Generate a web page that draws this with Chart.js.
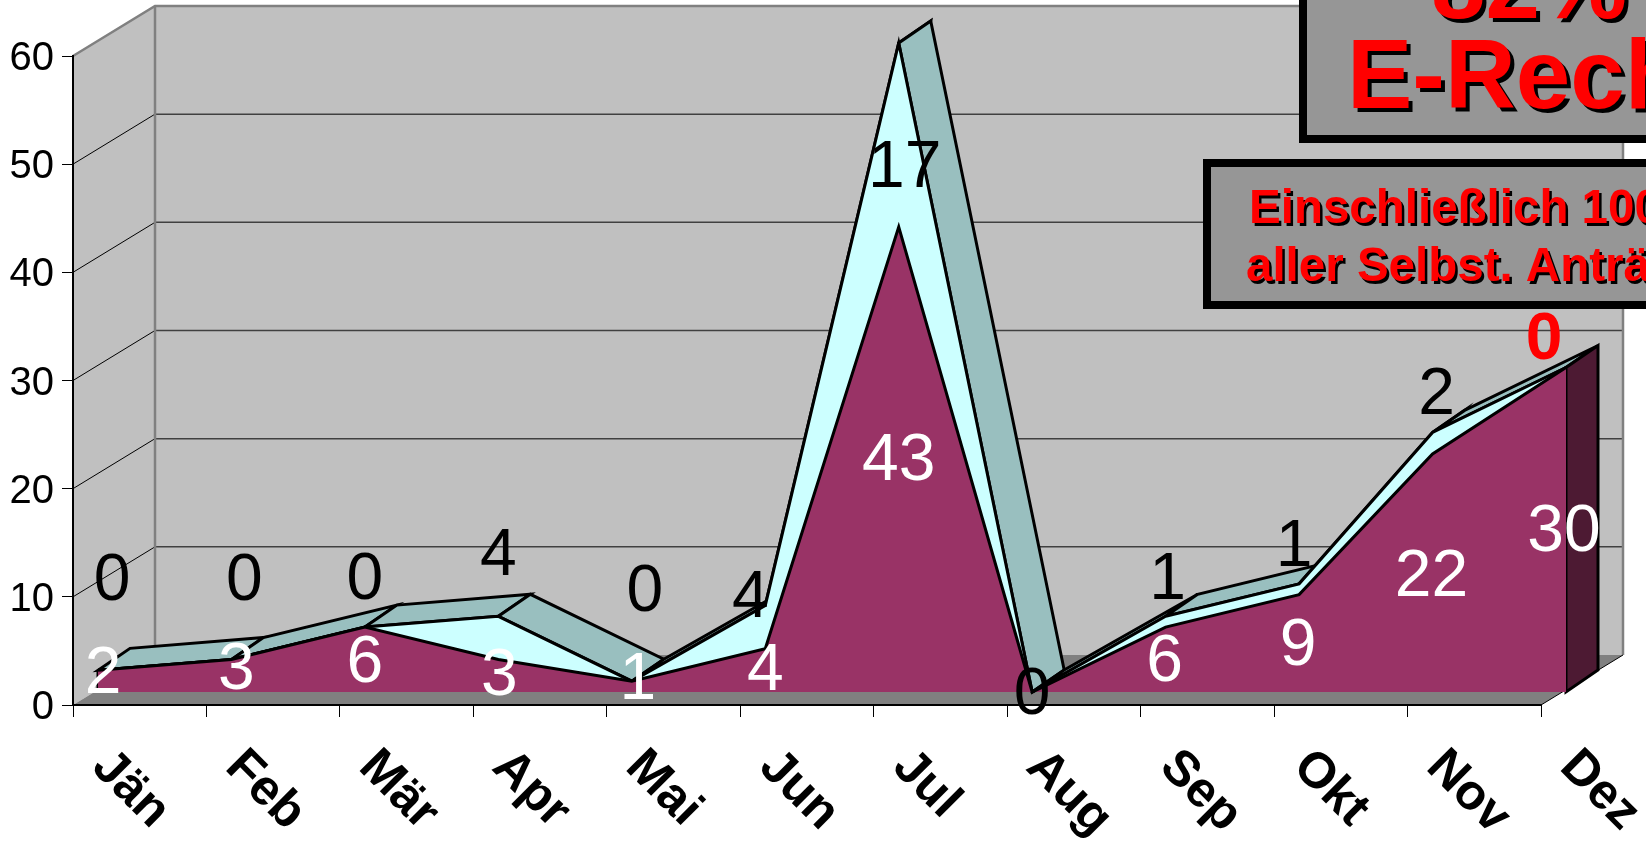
<!DOCTYPE html>
<html>
<head>
<meta charset="utf-8">
<style>
html, body { margin: 0; padding: 0; background: #fff; overflow: hidden; }
canvas { display: block; }
</style>
<script src="https://cdn.jsdelivr.net/npm/chart.js@4"></script>
</head>
<body>
<canvas id="chart" width="1646" height="844"></canvas>
<script>
// values
const months = ['Jän', 'Feb', 'Mär', 'Apr', 'Mai', 'Jun', 'Jul', 'Aug', 'Sep', 'Okt', 'Nov', 'Dez'];
const paperValues = [2, 3, 6, 3, 1, 4, 43, 0, 6, 9, 22, 30];
const eInvoiceValues = [0, 0, 0, 4, 0, 4, 17, 0, 1, 1, 2, 0];
const yTicks = [0, 10, 20, 30, 40, 50, 60];
const boxOneLines = ['82%', 'E-Rech'];
const boxTwoLines = ['Einschließlich 100', 'aller Selbst. Anträ'];

// hand placed label nudges, the original chart had its labels dragged around
const paperNudge = [[5, -6], [5, -5], [0, 4], [1, 1], [6, -6], [0, 1], [0, 2], [0, 0], [-1, 3], [-1, 3], [-1, 5], [-2, 3]];
const eInvoiceNudge = [[14, -89], [13, -78], [0, -46], [0, -81], [13, -88], [-15, -28], [6, 34], [0, 4], [2, -41], [-5, -41], [4, -47], [-22, -27]];

// 3d look: wall offset, front of the areas, depth of the areas
const wallDx = 82, wallDy = -50;
const frontDx = 25, frontDy = -13;
const depthDx = 32, depthDy = -22;

const FONT = '"Liberation Sans", Arial, sans-serif';

const wallsPlugin = {
    id: 'walls',
    beforeDraw(chart) {
        const { ctx, chartArea: a, scales: { y } } = chart;
        const left = a.left, right = a.right, top = y.getPixelForValue(60), bottom = y.getPixelForValue(0);
        ctx.save();

        // back wall + left wall
        ctx.fillStyle = '#c0c0c0';
        ctx.fillRect(left + wallDx, top + wallDy, right - left, bottom - top);
        ctx.beginPath();
        ctx.moveTo(left, top);
        ctx.lineTo(left + wallDx, top + wallDy);
        ctx.lineTo(left + wallDx, bottom + wallDy);
        ctx.lineTo(left, bottom);
        ctx.closePath();
        ctx.fill();

        // floor
        ctx.fillStyle = '#808080';
        ctx.beginPath();
        ctx.moveTo(left, bottom);
        ctx.lineTo(left + wallDx, bottom + wallDy);
        ctx.lineTo(right + wallDx, bottom + wallDy);
        ctx.lineTo(right, bottom);
        ctx.closePath();
        ctx.fill();

        // grid lines on both walls
        yTicks.slice(1, -1).forEach(v => {
            const py = y.getPixelForValue(v);
            ctx.strokeStyle = '#000';
            ctx.lineWidth = 1;
            ctx.beginPath();
            ctx.moveTo(left, py);
            ctx.lineTo(left + wallDx, py + wallDy);
            ctx.stroke();
            ctx.strokeStyle = '#404040';
            ctx.lineWidth = 1.5;
            ctx.beginPath();
            ctx.moveTo(left + wallDx, py + wallDy);
            ctx.lineTo(right + wallDx, py + wallDy);
            ctx.stroke();
        });

        // wall edges
        ctx.strokeStyle = '#808080';
        ctx.lineWidth = 2.5;
        ctx.beginPath();
        ctx.moveTo(left, top);
        ctx.lineTo(left + wallDx, top + wallDy);
        ctx.lineTo(right + wallDx, top + wallDy);
        ctx.lineTo(right + wallDx, bottom + wallDy);
        ctx.moveTo(left + wallDx, top + wallDy);
        ctx.lineTo(left + wallDx, bottom + wallDy);
        ctx.stroke();
        ctx.strokeStyle = '#000';
        ctx.lineWidth = 1;
        ctx.beginPath();
        ctx.moveTo(right, bottom);
        ctx.lineTo(right + wallDx, bottom + wallDy);
        ctx.stroke();
        ctx.restore();
    }
};

const depthPlugin = {
    id: 'depth',
    beforeDatasetsDraw(chart) {
        const { ctx, scales: { y } } = chart;
        const topPts = chart.getDatasetMeta(1).data;
        const lowPts = chart.getDatasetMeta(0).data;
        const base = y.getPixelForValue(0);
        ctx.save();
        ctx.translate(frontDx, frontDy);
        ctx.lineJoin = 'miter';
        ctx.lineWidth = 3;
        ctx.strokeStyle = '#000';

        // top surface running back from the stacked line
        for (let i = 0; i < topPts.length - 1; i++) {
            const p = topPts[i], q = topPts[i + 1];
            ctx.fillStyle = '#99bfbf';
            ctx.beginPath();
            ctx.moveTo(p.x, p.y);
            ctx.lineTo(q.x, q.y);
            ctx.lineTo(q.x + depthDx, q.y + depthDy);
            ctx.lineTo(p.x + depthDx, p.y + depthDy);
            ctx.closePath();
            ctx.fill();
            ctx.stroke();
        }

        // dark side face at the last month
        const end = lowPts[lowPts.length - 1];
        ctx.fillStyle = '#4d1a33';
        ctx.beginPath();
        ctx.moveTo(end.x, end.y);
        ctx.lineTo(end.x + depthDx, end.y + depthDy);
        ctx.lineTo(end.x + depthDx, base + depthDy);
        ctx.lineTo(end.x, base);
        ctx.closePath();
        ctx.fill();
        ctx.stroke();

        // left edge of the front face
        ctx.beginPath();
        ctx.moveTo(lowPts[0].x, lowPts[0].y);
        ctx.lineTo(lowPts[0].x, base);
        ctx.stroke();
        // datasets are left translated for their own drawing
    },
    afterDatasetsDraw(chart) {
        chart.ctx.restore();
    }
};

function shadowText(ctx, text, x, y, off) {
    ctx.fillStyle = '#000';
    ctx.fillText(text, x + off, y + off);
    ctx.fillStyle = '#ff0000';
    ctx.fillText(text, x, y);
}

function box(ctx, x, y, w, h) {
    ctx.fillStyle = '#000';
    ctx.fillRect(x, y, w, h);
    ctx.fillStyle = '#969696';
    ctx.fillRect(x + 8, y + 8, w - 16, h - 16);
}

const textPlugin = {
    id: 'texts',
    afterDraw(chart) {
        const { ctx, scales: { x, y } } = chart;
        ctx.save();
        ctx.textBaseline = 'middle';
        ctx.textAlign = 'center';

        // data labels, centred in their layer and then nudged
        ctx.font = '66px ' + FONT;
        paperValues.forEach((v, i) => {
            if (v === 0) return;
            const px = x.getPixelForValue(i) + frontDx + paperNudge[i][0];
            const py = y.getPixelForValue(v / 2) + frontDy + paperNudge[i][1];
            ctx.fillStyle = '#fff';
            ctx.fillText(String(v), px, py);
        });
        eInvoiceValues.forEach((v, i) => {
            const px = x.getPixelForValue(i) + frontDx + eInvoiceNudge[i][0];
            const py = y.getPixelForValue(paperValues[i] + v / 2) + frontDy + eInvoiceNudge[i][1];
            const last = i === eInvoiceValues.length - 1;
            ctx.font = (last ? 'bold ' : '') + '66px ' + FONT;
            ctx.fillStyle = last ? '#ff0000' : '#000';
            ctx.fillText(String(v), px, py);
        });

        // month labels run downwards to the right
        ctx.textAlign = 'left';
        ctx.fillStyle = '#000';
        ctx.font = 'bold 50px ' + FONT;
        months.forEach((m, i) => {
            ctx.save();
            ctx.translate(x.getPixelForValue(i) + 27, y.getPixelForValue(0) + 54);
            ctx.rotate(Math.PI / 4);
            ctx.fillText(m, 0, 0);
            ctx.restore();
        });

        // the two pasted boxes, both cut off by the picture edge
        ctx.textBaseline = 'alphabetic';
        box(ctx, 1299, -60, 420, 203);
        ctx.font = 'bold 98px ' + FONT;
        shadowText(ctx, boxOneLines[0], 1431, 18, 4);
        shadowText(ctx, boxOneLines[1], 1347, 108, 4);
        box(ctx, 1203, 159, 520, 150);
        ctx.font = 'bold 47.5px ' + FONT;
        shadowText(ctx, boxTwoLines[0], 1249, 223, 2.5);
        shadowText(ctx, boxTwoLines[1], 1246, 281, 2.5);
        ctx.restore();
    }
};

new Chart(document.getElementById('chart'), {
    type: 'line',
    data: {
        labels: months,
        datasets: [
            {
                data: paperValues,
                fill: 'origin',
                backgroundColor: '#993366',
                borderColor: '#000',
                borderWidth: 3,
                pointRadius: 0,
                tension: 0,
                clip: false,
                borderJoinStyle: 'miter'
            },
            {
                data: eInvoiceValues,
                fill: '-1',
                backgroundColor: '#ccffff',
                borderColor: '#000',
                borderWidth: 3,
                pointRadius: 0,
                tension: 0,
                clip: false,
                borderJoinStyle: 'miter'
            }
        ]
    },
    options: {
        responsive: false,
        animation: false,
        layout: { padding: { top: 56, right: 105, left: 0, bottom: 0 } },
        plugins: { legend: { display: false }, tooltip: { enabled: false } },
        scales: {
            x: {
                offset: false,
                grid: { drawOnChartArea: false, color: '#000', tickLength: 12 },
                border: { color: '#000', width: 2 },
                ticks: { display: false },
                afterFit: s => { s.height = 139; }
            },
            y: {
                stacked: true,
                min: 0,
                max: 60,
                afterBuildTicks: s => { s.ticks = yTicks.map(v => ({ value: v })); },
                grid: { drawOnChartArea: false, color: '#000', tickLength: 11 },
                border: { color: '#000', width: 2 },
                ticks: { color: '#000', padding: 8, labelOffset: 3, font: { family: FONT, size: 40 } },
                afterFit: s => { s.width = 73; }
            }
        }
    },
    plugins: [wallsPlugin, depthPlugin, textPlugin]
});
</script>
</body>
</html>
